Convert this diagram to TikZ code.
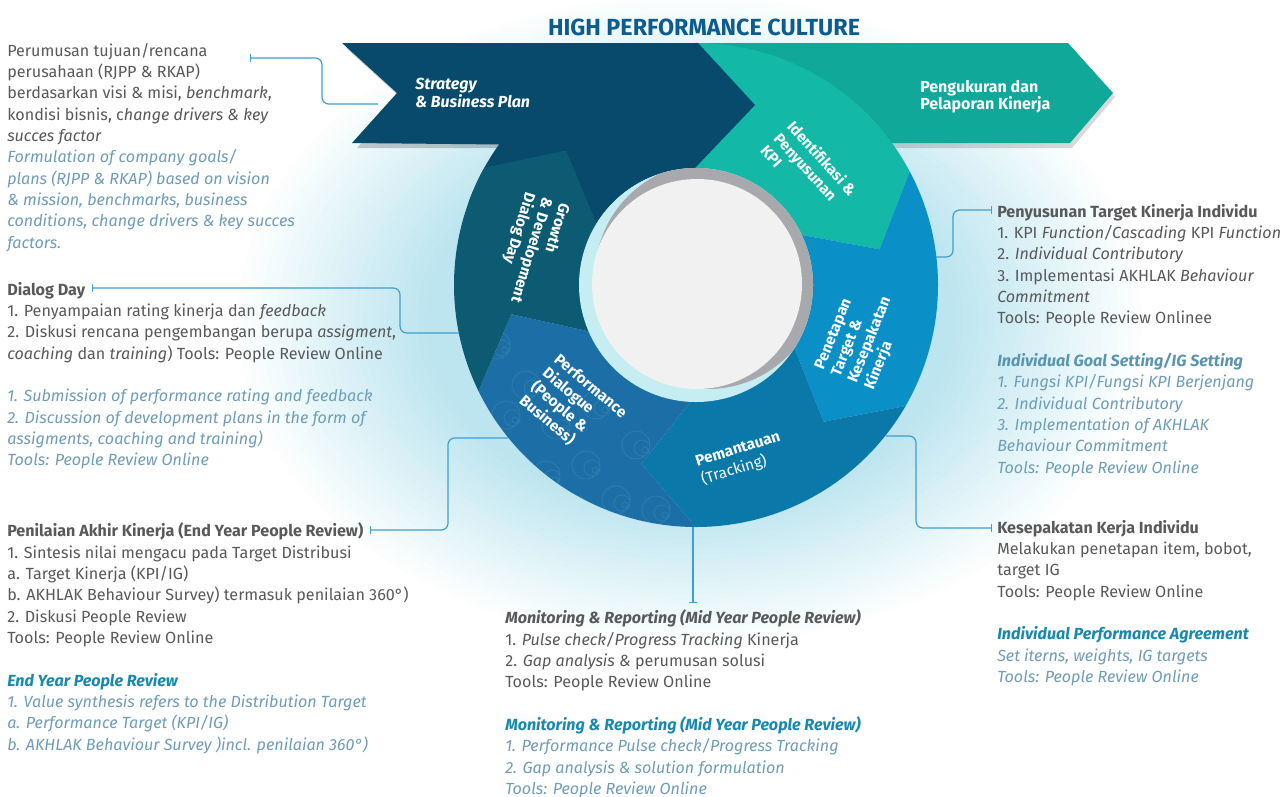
\documentclass[tikz,border=0pt]{standalone}
\usepackage{fontspec}
\setmainfont{Fira Sans}
\usetikzlibrary{arrows.meta}
\definecolor{navy}{HTML}{074A6B}
\definecolor{growthc}{HTML}{0C5B73}
\definecolor{perfc}{HTML}{1B6FA6}
\definecolor{pemc}{HTML}{0A79A9}
\definecolor{penc}{HTML}{0A8FC7}
\definecolor{identc}{HTML}{13B8A7}
\definecolor{pengc}{HTML}{10A899}
\definecolor{titlec}{HTML}{0D5C8F}
\definecolor{txtgrey}{HTML}{58595B}
\definecolor{txtblue}{HTML}{6F9DB6}
\definecolor{headteal}{HTML}{1889AE}
\definecolor{headblue}{HTML}{5A95B0}
\definecolor{connc}{HTML}{3E9FD0}
\definecolor{greyring}{HTML}{A7A9AC}
\definecolor{cyanring}{HTML}{C6EDF2}
\definecolor{innerc}{HTML}{F0F1F0}
\definecolor{cloudA}{HTML}{BCE5EF}
\newcommand\topstrut{\rule{0pt}{10pt}}
\newcommand\enl[1]{{\color{txtblue}\itshape #1}}
\newcommand\ringseg[3]{%
  \fill[#1] (#2:242) -- (#2-17:187) -- (#2:110) arc[start angle=#2, end angle=#3, radius=110]
    -- (#3-17:187) -- (#3:242) arc[start angle=#3, end angle=#2, radius=242] -- cycle;}
\tikzset{endbar/.tip={Bar[width=6pt, line width=0.9pt]}}
\begin{document}
\begin{tikzpicture}[x=0.75pt, y=0.75pt,
  txtblock/.style={anchor=north west, inner sep=0pt, align=left, text=txtgrey, font=\fontsize{12.1}{16}\selectfont},
  ringtxt/.style={inner sep=0pt, align=left, text=white, font=\fontsize{11.5}{13.5}\selectfont\bfseries},
  conn/.style={draw=connc, line width=0.9pt, rounded corners=5pt}]
\useasboundingbox (0,0) rectangle (1287,-796);
\fill[white] (0,0) rectangle (1287,-796);
% background cloud (stepped soft ellipses)
\foreach \i in {0,...,30}{
  \pgfmathsetmacro\s{1-0.017*\i}
  \pgfmathsetmacro\c{min(100,\i*4)}
  \fill[cloudA!\c!white] (690,-320) ellipse [x radius=460*\s, y radius=330*\s];
}

% Pengukuran arrow
\fill[black, opacity=0.15] (701,-47) -- (1070,-47) -- (1115,-97) -- (1072,-148) -- (701,-148) -- cycle;
\fill[pengc] (698,-43) -- (1068,-43) -- (1113,-93) -- (1070,-143) -- (698,-143) -- cycle;

\begin{scope}[shift={(696,-285)}]
  % Identifikasi (teal)
  \fill[identc] (28:242) -- (11:187) -- (28:110) arc[start angle=28, end angle=100, radius=110]
    -- (100:242) arc[start angle=100, end angle=28, radius=242] -- cycle;
  \ringseg{penc}{-30}{28}
  \ringseg{pemc}{-90}{-30}
  \ringseg{perfc}{-154}{-90}
  % batik pattern on Performance Dialogue
  \begin{scope}
    \clip (-154:242) -- (-171:187) -- (-154:110) arc[start angle=-154, end angle=-90, radius=110]
      -- (-107:187) -- (-90:242) arc[start angle=-90, end angle=-154, radius=242] -- cycle;
    \foreach \px/\py in {-200/-60,-170/-100,-140/-140,-110/-180,-80/-215,-40/-225,-190/-130,-150/-190,-120/-225,-100/-120,-60/-160,-20/-190}{
      \draw[white, opacity=0.08, line width=0.7pt] (\px,\py) circle (14) (\px+6,\py-3) circle (8) (\px+9,\py-5) circle (3);
    }
  \end{scope}
  % navy strategy arrow (straight + curved)
  \fill[black, opacity=0.2] (-350,237) -- (8,237) -- (8,137) -- (-339,137) -- (-295,187) -- cycle;
  \fill[navy] (-354,242) -- (2,242) -- (59,180) -- (-1,117) arc[start angle=90.5, end angle=160, radius=117]
    -- (160:242) arc[start angle=160, end angle=144.5, radius=242] -- (-344,142) -- (-299,192) -- cycle;
  \ringseg{growthc}{151}{206}
  % inner circle
  \fill[cyanring] (0,0) circle (117);
  \begin{scope}
    \clip (0,0) circle (117);
    \fill[greyring] (12,9) circle (113);
  \end{scope}
  \fill[innerc] (1,1) circle (105);
\end{scope}

% title
\node[font=\fontsize{17.5}{20}\selectfont\bfseries, text=titlec, inner sep=0pt] (title) at (704,-27.5) {HIGH PERFORMANCE CULTURE};

% labels on arrows and ring
\node[ringtxt, anchor=west, font=\fontsize{12}{13.5}\selectfont\bfseries\itshape] (tStrat) at (415,-93) {Strategy\\\& Business Plan};
\node[ringtxt, anchor=west, font=\fontsize{12}{13}\selectfont\bfseries] (tPeng) at (920,-97) {Pengukuran dan\\Pelaporan Kinerja};
\node[ringtxt, rotate=-48] (tIdent) at (809,-170) {Identifikasi \&\\Penyusunan\\KPI};
\node[ringtxt, rotate=68] (tPenet) at (862,-337) {Penetapan\\Target \&\\Kesepakatan\\Kinerja};
\node[ringtxt, rotate=17, font=\fontsize{11.5}{14.5}\selectfont\bfseries] (tPem) at (741,-459) {Pemantauan\\\mdseries(Tracking)};
\node[ringtxt, rotate=-40] (tPerf) at (573,-407) {Performance\\Dialogue\\(People \&\\Business)};
\node[ringtxt, rotate=-107] (tGrow) at (531,-250) {Growth\\\& Development\\Dialog Day};

% text blocks
\node[txtblock] (b1) at (7,-42.7) {\topstrut Perumusan tujuan/rencana\\
perusahaan (RJPP \& RKAP)\\
berdasarkan visi \& misi, \textit{benchmark},\\
kondisi bisnis, c\textit{hange drivers \& key}\\
\textit{succes factor}\\
\enl{Formulation of company goals/}\\
\enl{plans (RJPP \& RKAP) based on vision}\\
\enl{\& mission, benchmarks, business}\\
\enl{conditions, change drivers \& key succes}\\
\enl{factors.}};

\node[txtblock] (b2) at (7,-281.7) {\topstrut\textbf{Dialog Day}\\
1. Penyampaian rating kinerja dan \textit{feedback}\\
2. Diskusi rencana pengembangan berupa \textit{assigment},\\
\textit{coaching} dan \textit{training}) Tools: People Review Online\\[16pt]
\enl{1. Submission of performance rating and feedback}\\
\enl{2. Discussion of development plans in the form of}\\
\enl{assigments, coaching and training)}\\
\enl{Tools: People Review Online}};

\node[txtblock] (b3) at (7,-522.7) {\topstrut\textbf{Penilaian Akhir Kinerja (End Year People Review)}\\
1. Sintesis nilai mengacu pada Target Distribusi\\
a. Target Kinerja (KPI/IG)\\
b. AKHLAK Behaviour Survey) termasuk penilaian 360°)\\
2. Diskusi People Review\\
Tools: People Review Online\\[16pt]
{\color{headteal}\bfseries\itshape End Year People Review}\\
\enl{1. Value synthesis refers to the Distribution Target}\\
\enl{a. Performance Target (KPI/IG)}\\
\enl{b. AKHLAK Behaviour Survey )incl. penilaian 360°)}};

\node[txtblock] (b4) at (505,-609.7) {\topstrut\textbf{\textit{Monitoring \& Reporting (Mid Year People Review)}}\\
1. \textit{Pulse check/Progress Tracking} Kinerja\\
2. \textit{Gap analysis \&} perumusan solusi\\
Tools: People Review Online\\[16pt]
{\color{headteal}\bfseries\itshape Monitoring \& Reporting (Mid Year People Review)}\\
\enl{1. Performance Pulse check/Progress Tracking}\\
\enl{2. Gap analysis \& solution formulation}\\
\enl{Tools: People Review Online}};

\node[txtblock] (b5) at (997,-203.7) {\topstrut\textbf{Penyusunan Target Kinerja Individu}\\
1. KPI \textit{Function/Cascading} KPI \textit{Function}\\
2. \textit{Individual Contributory}\\
3. Implementasi AKHLAK \textit{Behaviour}\\
\textit{Commitment}\\
Tools: People Review Onlinee\\[16pt]
{\color{headblue}\bfseries\itshape Individual Goal Setting/IG Setting}\\
\enl{1. Fungsi KPI/Fungsi KPI Berjenjang}\\
\enl{2. Individual Contributory}\\
\enl{3. Implementation of AKHLAK}\\
\enl{Behaviour Commitment}\\
\enl{Tools: People Review Online}};

\node[txtblock] (b6) at (997,-519.7) {\topstrut\textbf{Kesepakatan Kerja Individu}\\
Melakukan penetapan item, bobot,\\
target IG\\
Tools: People Review Online\\[16pt]
{\color{headteal}\bfseries\itshape Individual Performance Agreement}\\
\enl{Set iterns, weights, IG targets}\\
\enl{Tools: People Review Online}};

% connectors
\coordinate (c1a) at (250,-58);  \coordinate (c1b) at (378,-104);
\coordinate (c2a) at (92,-288);  \coordinate (c2b) at (459,-333);
\coordinate (c3a) at (370,-530); \coordinate (c3b) at (508,-438);
\coordinate (c4a) at (693,-527); \coordinate (c4b) at (693,-603);
\coordinate (c5a) at (992,-210); \coordinate (c5b) at (936,-257);
\coordinate (c6a) at (992,-528); \coordinate (c6b) at (886,-436);
\draw[conn, {endbar}-] (c1a) -- (322,-58) -- (322,-104) -- (c1b);
\draw[conn, {endbar}-] (c2a) -- (400,-288) -- (400,-333) -- (c2b);
\draw[conn, {endbar}-] (c3a) -- (448,-530) -- (448,-438) -- (c3b);
\draw[conn, -{endbar}] (c4a) -- (c4b);
\draw[conn, {endbar}-] (c5a) -- (953,-210) -- (953,-257) -- (c5b);
\draw[conn, {endbar}-] (c6a) -- (916,-528) -- (916,-436) -- (c6b);
\end{tikzpicture}
\end{document}
